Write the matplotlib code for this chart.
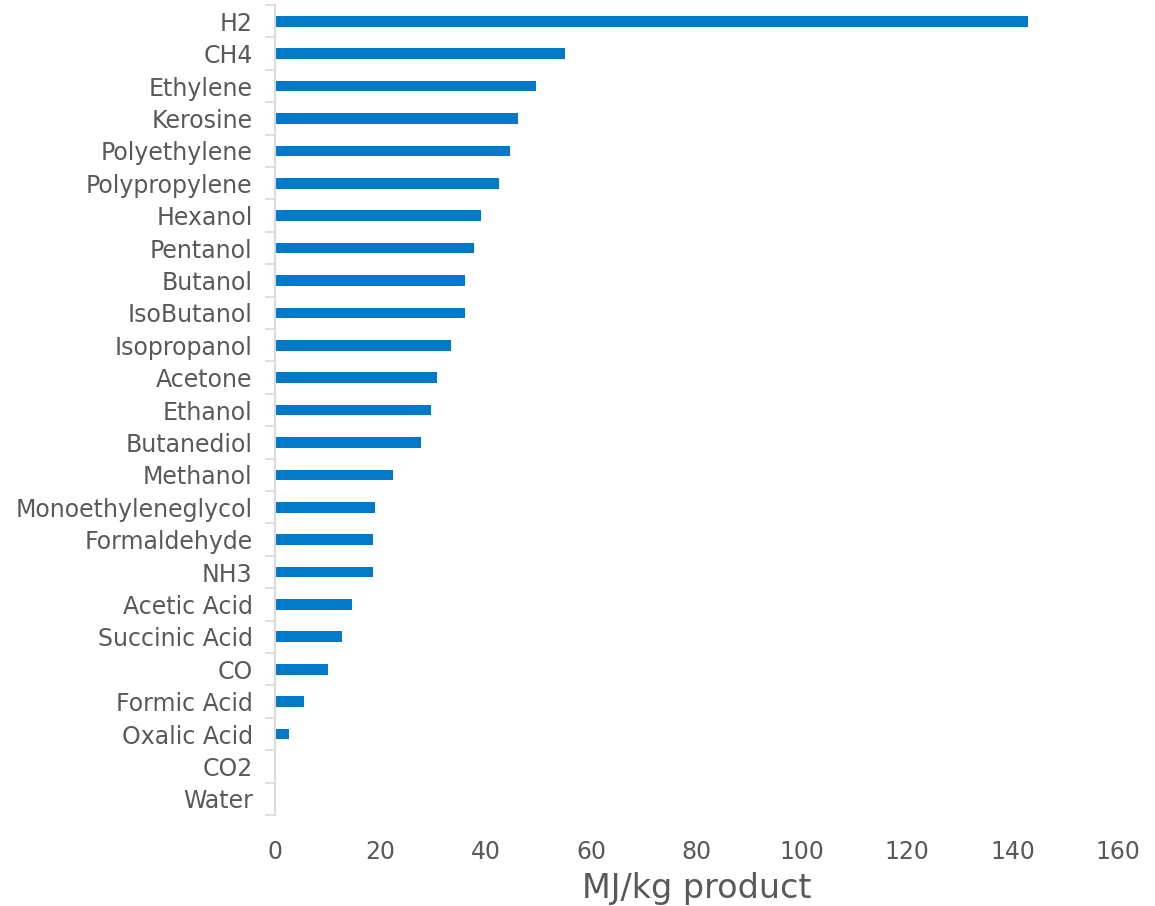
import matplotlib.pyplot as plt
import numpy as np

products = ["H2", "CH4", "Ethylene", "Kerosine", "Polyethylene", "Polypropylene",
            "Hexanol", "Pentanol", "Butanol", "IsoButanol", "Isopropanol", "Acetone",
            "Ethanol", "Butanediol", "Methanol", "Monoethyleneglycol", "Formaldehyde",
            "NH3", "Acetic Acid", "Succinic Acid", "CO", "Formic Acid", "Oxalic Acid",
            "CO2", "Water"]
energy = [142.9, 55.0, 49.5, 46.1, 44.6, 42.5,
          39.1, 37.8, 36.1, 36.0, 33.4, 30.7,
          29.6, 27.7, 22.4, 19.0, 18.6,
          18.6, 14.6, 12.7, 10.1, 5.5, 2.7,
          0.0, 0.0]
xticks = [0, 20, 40, 60, 80, 100, 120, 140, 160]

grey = "#595959"
fig = plt.figure(figsize=(11.55, 9.06), dpi=100)
ax = fig.add_axes([0.238, 0.1004, 0.730, 0.894])

y = np.arange(len(products))
ax.barh(y, energy, height=0.33, color="#0079C8")

ax.set_ylim(len(products) - 0.5, -0.5)
ax.set_xlim(0, 160)
ax.set_xticks(xticks)
ax.set_yticks(y)
ax.set_yticklabels(products)
ax.set_yticks(np.arange(len(products) + 1) - 0.5, minor=True)

ax.tick_params(axis="y", which="major", length=0, pad=16, labelsize=17, labelcolor=grey)
ax.tick_params(axis="y", which="minor", length=7, width=1.2, color="#d9d9d9")
ax.tick_params(axis="x", length=0, pad=18, labelsize=17, labelcolor=grey)

for s in ["top", "right", "bottom"]:
    ax.spines[s].set_visible(False)
ax.spines["left"].set_color("#d9d9d9")
ax.spines["left"].set_linewidth(1.5)

ax.set_xlabel("MJ/kg product", fontsize=24, color=grey, labelpad=6)

fig.savefig("out.png", dpi=100)
